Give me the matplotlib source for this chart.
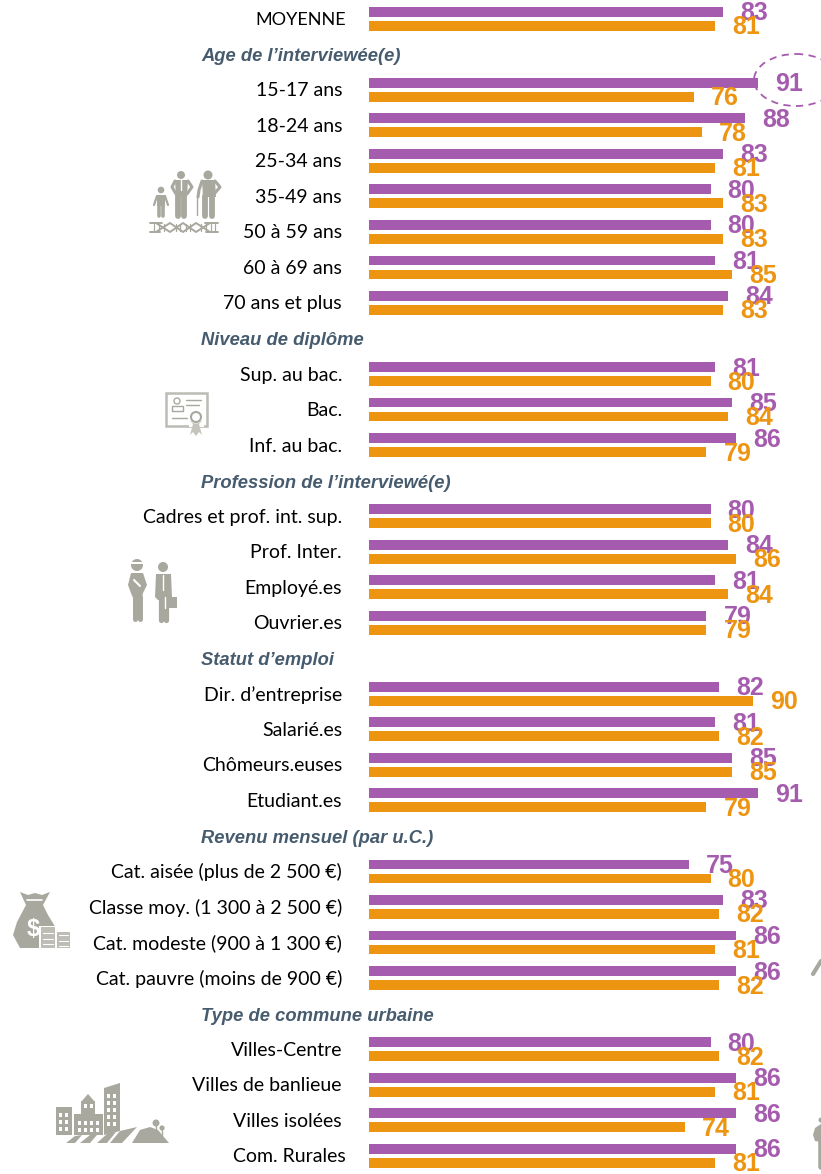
import matplotlib
matplotlib.use('Agg')
import matplotlib.pyplot as plt
from matplotlib.patches import Ellipse, Rectangle, Polygon

# data
labels = ['MOYENNE', '15-17 ans', '18-24 ans', '25-34 ans', '35-49 ans', '50 à 59 ans', '60 à 69 ans',
          '70 ans et plus', 'Sup. au bac.', 'Bac.', 'Inf. au bac.', 'Cadres et prof. int. sup.',
          'Prof. Inter.', 'Employé.es', 'Ouvrier.es', 'Dir. d’entreprise', 'Salarié.es',
          'Chômeurs.euses', 'Etudiant.es', 'Cat. aisée (plus de 2 500 €)', 'Classe moy. (1 300 à 2 500 €)',
          'Cat. modeste (900 à 1 300 €)', 'Cat. pauvre (moins de 900 €)', 'Villes-Centre',
          'Villes de banlieue', 'Villes isolées', 'Com. Rurales']
purple_vals = [83, 91, 88, 83, 80, 80, 81, 84, 81, 85, 86, 80, 84, 81, 79, 82, 81, 85, 91, 75, 83, 86, 86,
               80, 86, 86, 86]
orange_vals = [81, 76, 78, 81, 83, 83, 85, 83, 80, 84, 79, 80, 86, 84, 79, 90, 82, 85, 79, 80, 82, 81, 82,
               82, 81, 74, 81]
headers = ['Age de l’interviewée(e)', 'Niveau de diplôme', 'Profession de l’interviewé(e)',
           'Statut d’emploi', 'Revenu mensuel (par u.C.)', 'Type de commune urbaine']
# row slot of each label / header in the regular grid
label_slots = [0, 2, 3, 4, 5, 6, 7, 8, 10, 11, 12, 14, 15, 16, 17, 19, 20, 21, 22, 24, 25, 26, 27, 29, 30,
               31, 32]
header_slots = [1, 9, 13, 18, 23, 28]

PURPLE = '#a65cae'
ORANGE = '#ed9411'
SLATE = '#465b6e'
GREY = '#a9a89f'
W, H = 821, 1174
SCALE = 4.27  # px per point
X0 = 369

plt.rcParams['font.family'] = ['Lato', 'DejaVu Sans']
fig = plt.figure(figsize=(W/100, H/100), dpi=100)
ax = fig.add_axes([0, 0, 1, 1])
ax.set_xlim(-X0/SCALE, (W-X0)/SCALE)
ax.set_ylim(H, 0)
ax.axis('off')


def px(x):
    return (x-X0)/SCALE


def slot_y(s):
    return 18.7+35.53*s


for i in range(len(labels)):
    y = slot_y(label_slots[i])
    ax.barh(y-7, purple_vals[i], height=9.8, color=PURPLE)
    ax.barh(y+7, orange_vals[i], height=9.8, color=ORANGE)
    ax.text(purple_vals[i]+31/SCALE, y-5.5, str(purple_vals[i]), color=PURPLE, fontsize=18, weight='bold',
            family='Liberation Sans', ha='center', va='center')
    ax.text(orange_vals[i]+31/SCALE, y+8.5, str(orange_vals[i]), color=ORANGE, fontsize=18, weight='bold',
            family='Liberation Sans', ha='center', va='center')
    right = 346 if labels[i] in ('MOYENNE', 'Com. Rurales') else 342
    size = 13 if labels[i] == 'MOYENNE' else 14
    ax.text(px(right), y+1, labels[i], color='black', fontsize=size, ha='right', va='center')

for s, h in zip(header_slots, headers):
    ax.text(px(201.5), slot_y(s)+2.5, h, color=SLATE, fontsize=13.2, weight='bold', style='italic',
            family='Liberation Sans', ha='left', va='center')

# dashed circle round the 91
ax.add_patch(Ellipse((px(796), 80), 84/SCALE, 52, fill=False, ec=PURPLE, ls=(0, (4, 3)), lw=1.3))


def rect(x, y, w, h, c=GREY):
    ax.add_patch(Rectangle((px(x), y), w/SCALE, h, color=c, lw=0))


def circ(x, y, r, c=GREY):
    ax.add_patch(Ellipse((px(x), y), 2*r/SCALE, 2*r, color=c, lw=0))


def poly(pts, c=GREY):
    ax.add_patch(Polygon([(px(a), b) for a, b in pts], closed=True, color=c, lw=0))


def line(xs, ys, lw=1.5, c=GREY):
    ax.plot([px(a) for a in xs], ys, color=c, lw=lw, solid_capstyle='round', solid_joinstyle='round')


# family icon: child, man, old man with a cane
circ(161, 190, 3.3)
poly([(157, 195), (165, 195), (165, 206), (157, 206)])
line([157, 154], [196, 205], 1.6)
line([165, 168], [196, 205], 1.6)
line([159, 159], [205, 216], 2.6)
line([163, 163], [205, 216], 2.6)
circ(181, 175, 4)
poly([(175, 180), (188, 180), (187, 197), (176, 197)])
line([175, 172, 176], [181, 187, 194], 2.2)
line([188, 192, 187], [181, 187, 194], 2.2)
line([178.5, 178.5], [196, 216], 4.2)
line([184.5, 184.5], [196, 216], 4.2)
line([181.5, 181.5], [180, 190], 1, 'white')
circ(208, 175, 4.5)
poly([(202, 180), (215, 180), (216, 197), (203, 197)])
line([202, 199, 198], [181, 190, 197], 2.2)
line([215, 220, 215], [181, 187, 193], 2.2)
line([205.5, 205.5], [196, 216], 4.2)
line([212, 212], [196, 216], 4.2)
line([197, 197], [197, 215], 1)

# DNA strand
line([156, 170, 183, 196, 210], [223, 232, 223, 232, 223], 1.4)
line([156, 170, 183, 196, 210], [232, 223, 232, 223, 232], 1.4)
line([150, 162], [223, 223], 1.4)
line([205, 218], [223, 223], 1.4)
line([150, 160], [232, 232], 1.4)
line([206, 218], [232, 232], 1.4)
for xx in [154, 159, 164, 176, 180, 186, 190, 201, 206, 211, 215]:
    line([xx, xx], [224, 231], 0.9)

# diploma icon
ax.add_patch(Rectangle((px(166), 393), 41/SCALE, 33, fill=False, ec='#bcbcb4', lw=1.8))
ax.add_patch(Ellipse((px(177), 401), 6/SCALE, 6, fill=False, ec=GREY, lw=1))
line([172, 172, 183, 183], [411, 406, 406, 411], 1)
line([172, 183], [411, 411], 1)
line([186, 201], [400, 400], 1)
line([186, 199], [405, 405], 1)
line([172, 187], [418, 418], 1)
rect(189, 420, 15, 6.5, 'white')
poly([(190, 421), (193, 424), (190, 435), (193, 432), (196, 436), (199, 432), (202, 435), (199, 424), (202, 421)],
     '#c4c4bd')
circ(196, 417, 6.5, 'white')
ax.add_patch(Ellipse((px(196), 417), 10/SCALE, 10, fill=False, ec=GREY, lw=1.5))

# workers icon
circ(137, 565, 6)
rect(131, 562, 12, 2, 'white')
poly([(131, 573), (143, 573), (147, 585), (143, 593), (142, 598), (133, 598), (131, 593), (128, 585)])
line([135, 135], [597, 619], 3.6)
line([140, 140], [597, 619], 3.6)
line([134, 140], [580, 586], 1.5, 'white')
circ(163, 567, 5)
poly([(156, 574), (171, 574), (172, 597), (169, 600), (158, 600), (155, 597)])
line([161, 161], [598, 620], 3.8)
line([166, 166], [598, 620], 3.8)
line([163.5, 163.5], [575, 590], 1, 'white')
rect(165, 597, 12, 11)
line([165, 165], [597, 608], 1, 'white')

# money bag icon
poly([(20, 892), (28, 895), (35, 893), (42, 895), (50, 892), (43, 905), (48, 915), (56, 928), (40, 948),
      (20, 948), (13, 935), (17, 922), (26, 905)])
line([27, 42], [900, 900], 1.2, 'white')
ax.text(px(33), 930, '$', color='white', fontsize=17, weight='bold', ha='center', va='center',
        family='Liberation Sans')
rect(39, 926, 18, 23, 'white')
rect(41, 927, 14, 21, '#bdbdb6')
rect(57, 932, 13, 16, '#bdbdb6')
for yy in [933, 939, 944]:
    line([43, 53], [yy, yy], 0.8, 'white')
    line([59, 68], [yy+2, yy+2], 0.8, 'white')

# city icon
rect(56, 1107, 16, 28)
rect(74, 1114, 29, 21)
rect(81, 1101, 14, 14)
poly([(81, 1102), (88, 1094), (95, 1102)])
poly([(104, 1088), (120, 1083), (120, 1131), (104, 1135)])
for xx in [59, 65]:
    for yy in [1113, 1120, 1127]:
        rect(xx, yy, 3.5, 3.5, 'white')
for xx in [78, 84, 90, 96]:
    rect(xx, 1121, 3.5, 4, 'white')
    rect(xx, 1128, 3.5, 3.5, 'white')
for xx in [84, 90]:
    rect(xx, 1104, 3.5, 4, 'white')
for xx in [107, 113]:
    for yy in [1094, 1101, 1108, 1115, 1122]:
        rect(xx, yy, 3.5, 3.5, 'white')
poly([(66, 1143), (75, 1136), (82, 1135), (75, 1143)])
poly([(80, 1143), (90, 1135), (97, 1135), (90, 1143)])
poly([(97, 1143), (108, 1133), (116, 1132), (107, 1143)])
poly([(110, 1143), (120, 1131), (137, 1127), (122, 1143)])
poly([(132, 1143), (140, 1130), (150, 1127), (158, 1130), (169, 1143)])
circ(156, 1123, 3.5)
line([156, 156], [1125, 1132], 1)
circ(162, 1128, 2.6)
line([162, 162], [1130, 1135], 1)

# bits of cut off icons on the right edge
line([813, 821], [974, 961], 3)
circ(821, 1120, 2.5)
poly([(821, 1124), (815, 1128), (813, 1135), (815, 1141), (821, 1142)])
line([820.5, 820.5], [1142, 1167], 4)

fig.savefig('out.png', dpi=100)
